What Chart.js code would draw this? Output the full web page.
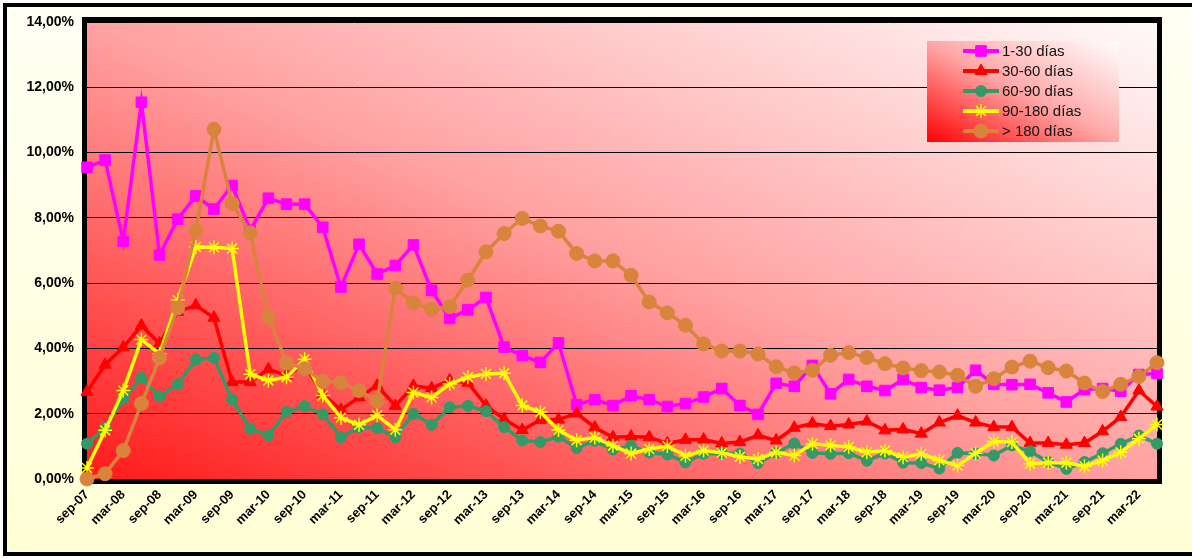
<!DOCTYPE html>
<html>
<head>
<meta charset="utf-8">
<script src="https://cdn.jsdelivr.net/npm/chart.js@4.4.1/dist/chart.umd.min.js"></script>
<style>
  html, body { margin: 0; padding: 0; background: #fff; }
  #frame {
    position: absolute; left: 3px; top: 3px; width: 1200px; height: 545px;
    border: 4px solid #000; border-right: none;
    background: linear-gradient(#FFFFF4, #FFFFD6);
  }
  #chart { position: absolute; left: 0; top: 0; }
</style>
</head>
<body>
<div id="frame"></div>
<canvas id="chart" width="1192" height="559"></canvas>
<script>
// quarterly categories, sep-07 .. jun-22
const quarters = [
  "sep-07","dic-07","mar-08","jun-08","sep-08","dic-08","mar-09","jun-09","sep-09","dic-09",
  "mar-10","jun-10","sep-10","dic-10","mar-11","jun-11","sep-11","dic-11","mar-12","jun-12",
  "sep-12","dic-12","mar-13","jun-13","sep-13","dic-13","mar-14","jun-14","sep-14","dic-14",
  "mar-15","jun-15","sep-15","dic-15","mar-16","jun-16","sep-16","dic-16","mar-17","jun-17",
  "sep-17","dic-17","mar-18","jun-18","sep-18","dic-18","mar-19","jun-19","sep-19","dic-19",
  "mar-20","jun-20","sep-20","dic-20","mar-21","jun-21","sep-21","dic-21","mar-22","jun-22"
];

// series values (%)
const d1_30 = [
  9.55, 9.77, 7.28, 11.54, 6.86, 7.96, 8.67, 8.27, 8.99, 7.62,
  8.60, 8.42, 8.42, 7.71, 5.88, 7.19, 6.28, 6.54, 7.17, 5.78,
  4.92, 5.18, 5.56, 4.04, 3.78, 3.57, 4.17, 2.28, 2.43, 2.25,
  2.55, 2.43, 2.22, 2.31, 2.51, 2.77, 2.25, 1.98, 2.93, 2.84,
  3.48, 2.61, 3.05, 2.84, 2.71, 3.05, 2.80, 2.72, 2.80, 3.33,
  2.90, 2.89, 2.90, 2.64, 2.36, 2.74, 2.77, 2.69, 3.20, 3.23
];
const d30_60 = [
  2.67, 3.50, 4.03, 4.70, 4.15, 5.12, 5.32, 4.94, 2.97, 2.97,
  3.36, 3.18, 3.50, 2.60, 2.12, 2.50, 2.86, 2.24, 2.85, 2.78,
  3.02, 2.95, 2.25, 1.83, 1.50, 1.81, 1.82, 2.01, 1.58, 1.28,
  1.30, 1.28, 1.09, 1.20, 1.21, 1.09, 1.13, 1.34, 1.18, 1.57,
  1.70, 1.62, 1.67, 1.76, 1.49, 1.52, 1.39, 1.73, 1.94, 1.73,
  1.59, 1.59, 1.10, 1.10, 1.05, 1.10, 1.46, 1.90, 2.71, 2.22
];
const d60_90 = [
  1.08, 1.56, 2.46, 3.10, 2.53, 2.90, 3.66, 3.71, 2.43, 1.54,
  1.34, 2.05, 2.23, 1.98, 1.28, 1.59, 1.56, 1.28, 2.00, 1.66,
  2.20, 2.24, 2.08, 1.59, 1.18, 1.13, 1.30, 0.95, 1.17, 0.90,
  1.02, 0.81, 0.75, 0.51, 0.77, 0.79, 0.78, 0.49, 0.80, 1.09,
  0.80, 0.77, 0.79, 0.56, 0.78, 0.50, 0.49, 0.32, 0.80, 0.78,
  0.72, 1.03, 0.85, 0.52, 0.31, 0.52, 0.79, 1.08, 1.33, 1.08
];
const d90_180 = [
  0.34, 1.49, 2.71, 4.27, 3.84, 5.48, 7.11, 7.10, 7.06, 3.21,
  3.02, 3.12, 3.67, 2.56, 1.88, 1.66, 1.95, 1.51, 2.65, 2.50,
  2.91, 3.12, 3.22, 3.24, 2.25, 2.05, 1.50, 1.19, 1.27, 1.02,
  0.78, 0.92, 1.01, 0.71, 0.87, 0.80, 0.68, 0.61, 0.82, 0.72,
  1.08, 1.03, 0.98, 0.82, 0.87, 0.67, 0.77, 0.57, 0.41, 0.79,
  1.15, 1.13, 0.47, 0.50, 0.50, 0.39, 0.57, 0.82, 1.23, 1.67
];
const d180 = [
  0.00, 0.16, 0.87, 2.31, 3.71, 5.24, 7.60, 10.71, 8.44, 7.54,
  4.96, 3.56, 3.38, 2.99, 2.95, 2.71, 2.39, 5.85, 5.39, 5.20,
  5.28, 6.09, 6.96, 7.52, 7.98, 7.75, 7.59, 6.91, 6.68, 6.68,
  6.24, 5.42, 5.09, 4.71, 4.14, 3.92, 3.92, 3.83, 3.44, 3.25,
  3.33, 3.79, 3.87, 3.72, 3.53, 3.40, 3.32, 3.28, 3.18, 2.84,
  3.07, 3.43, 3.61, 3.41, 3.31, 2.94, 2.68, 2.90, 3.14, 3.56
];

const FONT = 'Arial, "Liberation Sans", sans-serif';

// diagonal gradient in unit-square space (Excel style)
function diagFill(ctx, x, y, w, h, stops) {
  ctx.save();
  ctx.translate(x, y);
  ctx.scale(w, h);
  const g = ctx.createLinearGradient(0, 1, 1, 0);
  stops.forEach(([p, c]) => g.addColorStop(p, c));
  ctx.fillStyle = g;
  ctx.fillRect(0, 0, 1, 1);
  ctx.restore();
}

const excelLook = {
  id: "excelLook",
  beforeDraw(chart) {
    const a = chart.chartArea;
    diagFill(chart.ctx, a.left, a.top, a.right - a.left, a.bottom - a.top,
      [[0, "#FF1A1A"], [0.5, "#FFA2A2"], [1, "#FFFAFA"]]);
  },
  beforeDatasetsDraw(chart) {
    const { ctx, chartArea: a } = chart;
    ctx.save();
    ctx.strokeStyle = "#000";
    ctx.lineWidth = 5;
    ctx.strokeRect(a.left - 2.5, a.top - 2.5, a.right - a.left + 5, a.bottom - a.top + 5);
    ctx.restore();
  },
  afterDraw(chart) {
    // legend box, inside the plot, top right
    const ctx = chart.ctx;
    const bx = 927, by = 41, bw = 192, bh = 101;
    diagFill(ctx, bx, by, bw, bh, [[0, "#FF0000"], [0.5, "#FFA8A8"], [1, "#FFFFFF"]]);
    const list = chart.data.datasets;
    list.forEach((ds, i) => {
      const y = by + 10 + i * 20;
      ctx.save();
      ctx.strokeStyle = ds.borderColor;
      ctx.lineWidth = 4;
      ctx.beginPath();
      ctx.moveTo(963, y);
      ctx.lineTo(999, y);
      ctx.stroke();
      ctx.fillStyle = ds.pointBackgroundColor;
      ctx.strokeStyle = ds.pointBorderColor;
      ctx.lineWidth = ds.pointBorderWidth;
      Chart.helpers.drawPoint(ctx, {
        pointStyle: ds.pointStyle, radius: ds.pointRadius,
        borderWidth: ds.pointBorderWidth, rotation: 0
      }, 981, y);
      ctx.fillStyle = "#111";
      ctx.font = "15px " + FONT;
      ctx.textBaseline = "middle";
      ctx.textAlign = "left";
      ctx.fillText(ds.label, 1002, y + 1);
      ctx.restore();
    });
  }
};

function series(label, data, color, style, radius, order, pointBorder) {
  return {
    label, data,
    borderColor: color,
    backgroundColor: color,
    borderWidth: 3.5,
    pointStyle: style,
    pointRadius: radius,
    pointBackgroundColor: color,
    pointBorderColor: pointBorder || color,
    pointBorderWidth: style === "star" ? 1.5 : 1,
    tension: 0,
    clip: false,
    order
  };
}

new Chart(document.getElementById("chart"), {
  type: "line",
  data: {
    labels: quarters,
    datasets: [
      series("1-30 días", d1_30, "#FF00FF", "rect", 7.5, 5),
      series("30-60 días", d30_60, "#FF0000", "triangle", 7, 4),
      series("60-90 días", d60_90, "#339966", "circle", 5.5, 3),
      series("90-180 días", d90_180, "#FFFF00", "star", 7, 2),
      series("> 180 días", d180, "#D8843C", "circle", 7, 1)
    ]
  },
  options: {
    responsive: false,
    animation: false,
    layout: { padding: { top: 22, right: 35, left: 0, bottom: 0 } },
    plugins: {
      legend: { display: false },
      tooltip: { enabled: false }
    },
    scales: {
      x: {
        offset: false,
        border: { display: false },
        grid: {
          drawOnChartArea: false,
          tickLength: 5,
          color: (c) => (c.index % 2 ? "rgba(0,0,0,0)" : "#000")
        },
        ticks: {
          autoSkip: false,
          minRotation: 45,
          maxRotation: 45,
          color: "#000",
          font: { family: FONT, size: 13, weight: "bold" },
          callback(v, i) { return i % 2 ? "" : this.getLabelForValue(v); }
        },
        afterFit(s) { s.height = 80; }
      },
      y: {
        min: 0,
        max: 14,
        border: { display: false },
        grid: { color: "#000", lineWidth: 1, tickLength: 5 },
        ticks: {
          stepSize: 2,
          padding: 8,
          color: "#000",
          font: { family: FONT, size: 14, weight: "bold" },
          callback: (v) => v.toFixed(2).replace(".", ",") + "%"
        },
        afterFit(s) { s.width = 87; }
      }
    }
  },
  plugins: [excelLook]
});
</script>
</body>
</html>
